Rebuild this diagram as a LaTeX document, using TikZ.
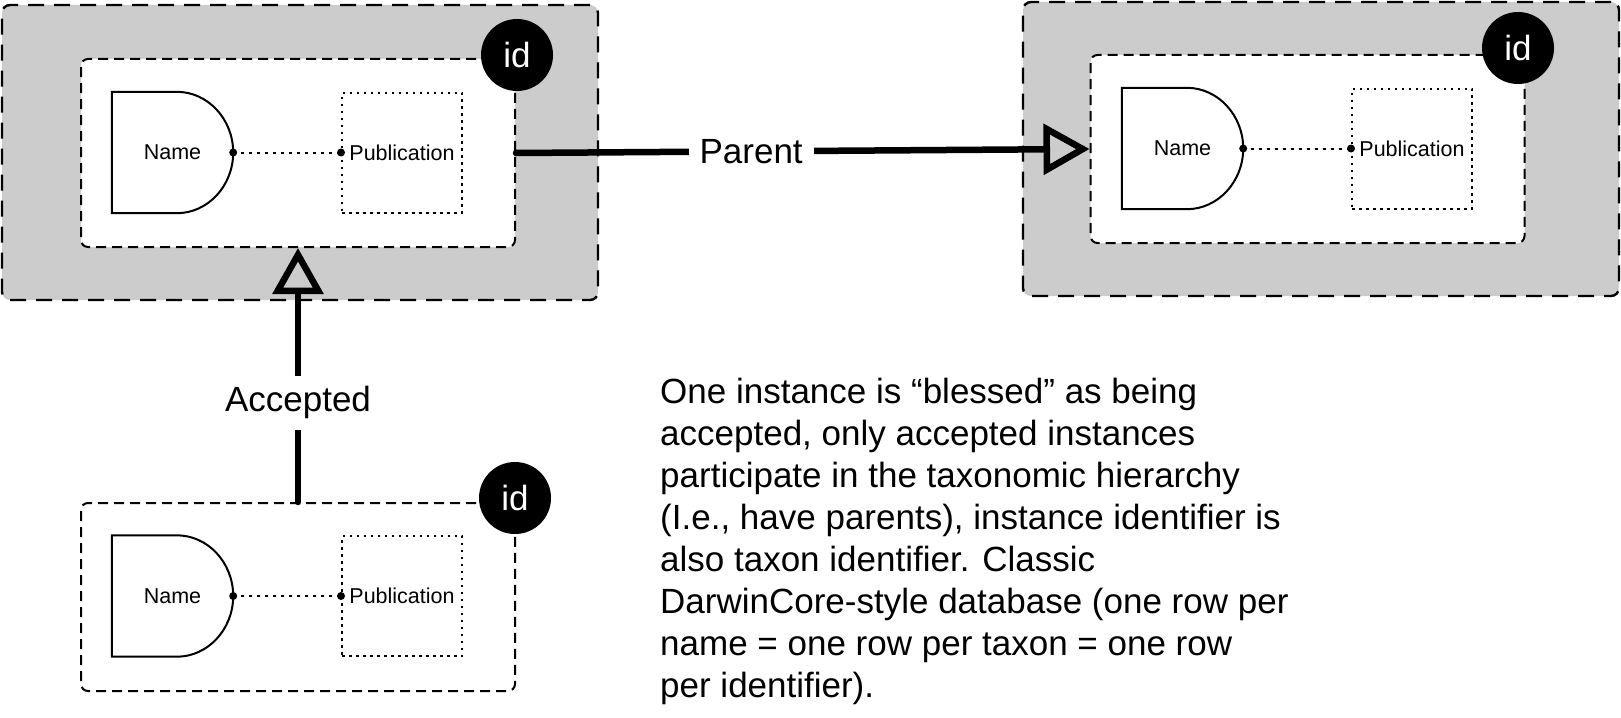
\documentclass[tikz,border=0pt]{standalone}
\usepackage{fontspec}
\setmainfont{Liberation Sans}
\usetikzlibrary{arrows.meta}
\definecolor{boxgray}{HTML}{CCCCCC}
\begin{document}
\begin{tikzpicture}[x=1pt,y=-1pt,
  outerbox/.style={draw, fill=boxgray, dash pattern=on 16pt off 10pt, line width=2.4pt, rounded corners=8pt, inner sep=0pt},
  innerbox/.style={draw, fill=white, dash pattern=on 10pt off 6pt, line width=2pt, rounded corners=7pt, inner sep=0pt, minimum width=434pt, minimum height=188pt},
  idmark/.style={circle, fill=black, text=white, minimum size=72pt, inner sep=0pt, font=\fontsize{35}{40}\selectfont},
  namebox/.style={minimum width=121pt, minimum height=121pt, inner sep=0pt, font=\fontsize{21.5}{25}\selectfont},
  nameline/.style={line width=2pt},
  pubbox/.style={draw, dash pattern=on 2.5pt off 4.5pt, line width=2pt, minimum width=120pt, minimum height=120pt, inner sep=0pt, font=\fontsize{21.5}{25}\selectfont},
  dotline/.style={line width=2pt, dash pattern=on 2.5pt off 5.5pt},
  rel/.style={line width=6.5pt, line cap=round, -{Triangle[open, length=46pt, width=50pt, line width=6.5pt]}},
  rellabel/.style={fill=white, inner sep=11pt, font=\fontsize{35}{42}\selectfont},
  desc/.style={anchor=north west, inner sep=0pt, align=left, font=\fontsize{35}{42}\selectfont}
]
\useasboundingbox (0,0) rectangle (1621,717);

% outer gray boxes
\node[outerbox, minimum width=596pt, minimum height=295pt] (L-outer) at (300,152.5) {};
\node[outerbox, minimum width=596pt, minimum height=294pt] (R-outer) at (1321,149) {};

% inner instance boxes
\node[innerbox] (L-inner) at (298,153) {};
\node[innerbox] (R-inner) at (1307.5,149) {};
\node[innerbox] (B-inner) at (298,597) {};

% names
\node[namebox] (L-name) at (172.5,152.5) {Name};
\node[namebox] (R-name) at (1182.5,148.5) {Name};
\node[namebox] (B-name) at (172.5,596) {Name};
\foreach \n in {L,R,B}{
  \draw[nameline] (\n-name.north west) -- ([xshift=65pt]\n-name.north west)
    .. controls +(31,0) and +(0,-33.4) .. (\n-name.east)
    .. controls +(0,33.4) and +(31,0) .. ([xshift=65pt]\n-name.south west)
    -- (\n-name.south west) -- cycle;
}

% publications
\node[pubbox] (L-pub) at (402,152.5) {Publication};
\node[pubbox] (R-pub) at (1412,148.5) {Publication};
\node[pubbox] (B-pub) at (402,596) {Publication};

\foreach \n in {L,R,B}{
  \draw[dotline] (\n-name.east) -- (\n-pub.west);
  \fill (\n-name.east) circle (4pt);
  \fill (\n-pub.west) circle (4pt);
}

% id markers
\node[idmark] (L-id) at (517,55) {id};
\node[idmark] (R-id) at (1518,48) {id};
\node[idmark] (B-id) at (515,498) {id};

% relations
\draw[rel] (L-inner.east) -- (R-inner.west) node[rellabel, pos=0.41] (parent) {Parent};
\draw[rel] (B-inner.north) -- (L-inner.south) node[rellabel, pos=0.39] (accepted) {Accepted};

% description
\node[desc] (text) at (660,377.5) {One instance is “blessed” as being\\
accepted, only accepted instances\\
participate in the taxonomic hierarchy\\
(I.e., have parents), instance identifier is\\
also taxon identifier. Classic\\
DarwinCore-style database (one row per\\
name = one row per taxon = one row\\
per identifier).};
\end{tikzpicture}
\end{document}
